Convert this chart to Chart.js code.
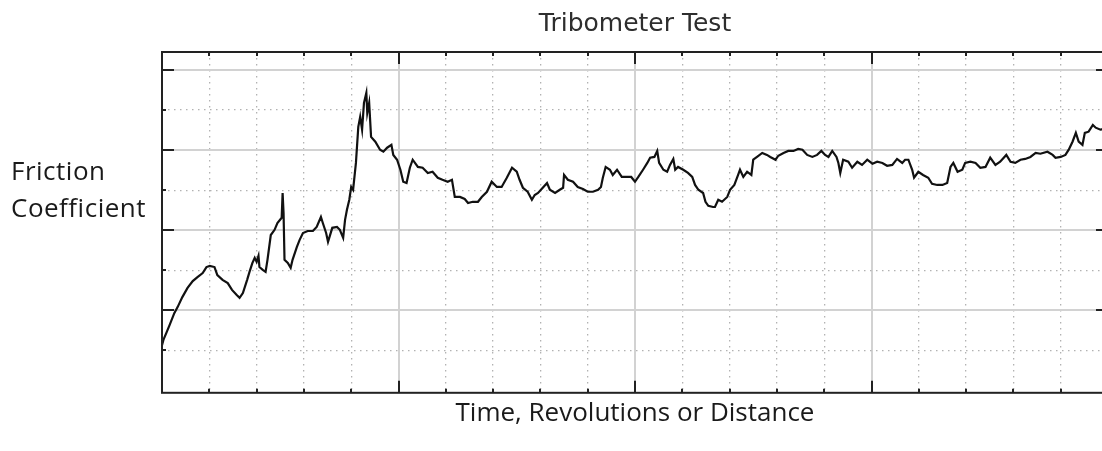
<!DOCTYPE html>
<html>
<head>
<meta charset="utf-8">
<script src="https://cdn.jsdelivr.net/npm/chart.js"></script>
<style>
  html, body { margin: 0; padding: 0; overflow: hidden; background: #fff; }
  /* plot runs a few px past the right edge of the window, like the original */
  #wrap { position: relative; width: 1112px; height: 451px; }
</style>
</head>
<body>
<div id="wrap"><canvas id="tribo-chart"></canvas></div>
<script>
  // trace: time (s) vs friction coefficient
  const time = [
    0, 3, 9, 16, 26, 33, 43, 54, 65, 75, 86, 94, 101, 111, 117, 128, 139, 148, 158, 164,
    171, 180, 185, 191, 196, 200, 204, 206, 213, 219, 223, 230, 238, 244, 253, 255, 257, 259, 266, 272,
    276, 285, 291, 298, 308, 319, 327, 336, 340, 347, 351, 360, 370, 376, 383, 387, 391, 396, 400, 404,
    410, 415, 419, 423, 427, 432, 434, 438, 442, 451, 461, 468, 476, 485, 489, 497, 504, 510, 517, 524,
    530, 541, 551, 562, 572, 583, 593, 604, 613, 619, 630, 640, 647, 657, 668, 676, 687, 697, 708, 718,
    729, 740, 750, 756, 763, 773, 782, 788, 795, 805, 814, 820, 831, 841, 848, 850, 858, 869, 879, 890,
    900, 911, 922, 928, 932, 938, 947, 953, 962, 972, 983, 992, 1000, 1007, 1017, 1026, 1032, 1041, 1047, 1051,
    1060, 1068, 1074, 1081, 1085, 1091, 1102, 1112, 1121, 1127, 1134, 1144, 1149, 1155, 1165, 1169, 1176, 1184, 1195, 1201,
    1210, 1218, 1222, 1229, 1237, 1246, 1250, 1258, 1269, 1279, 1286, 1297, 1303, 1314, 1324, 1335, 1345, 1354, 1364, 1375,
    1385, 1394, 1402, 1409, 1417, 1426, 1430, 1434, 1440, 1451, 1459, 1470, 1480, 1491, 1502, 1512, 1523, 1533, 1544, 1554,
    1565, 1571, 1578, 1586, 1590, 1599, 1609, 1620, 1628, 1639, 1650, 1660, 1667, 1673, 1682, 1692, 1698, 1709, 1720, 1730,
    1741, 1751, 1762, 1772, 1785, 1794, 1804, 1815, 1825, 1836, 1847, 1857, 1872, 1883, 1889, 1900, 1910, 1917, 1925, 1932,
    1938, 1946, 1951, 1959, 1968, 1974, 1984, 1993, 1999
  ];
  const friction = [
    0.113, 0.126, 0.143, 0.163, 0.193, 0.208, 0.233, 0.256, 0.273, 0.283, 0.293, 0.308, 0.311, 0.308, 0.288, 0.276, 0.268, 0.251, 0.238, 0.231,
    0.243, 0.276, 0.296, 0.318, 0.331, 0.321, 0.336, 0.308, 0.301, 0.296, 0.326, 0.388, 0.401, 0.418, 0.431, 0.493, 0.443, 0.326, 0.318, 0.306,
    0.326, 0.358, 0.376, 0.393, 0.398, 0.398, 0.408, 0.433, 0.418, 0.393, 0.371, 0.406, 0.408, 0.401, 0.381, 0.426, 0.451, 0.476, 0.508, 0.501,
    0.568, 0.658, 0.683, 0.651, 0.718, 0.743, 0.693, 0.718, 0.633, 0.621, 0.601, 0.596, 0.606, 0.613, 0.588, 0.576, 0.551, 0.521, 0.518, 0.556,
    0.576, 0.558, 0.556, 0.543, 0.546, 0.531, 0.526, 0.521, 0.526, 0.483, 0.483, 0.478, 0.468, 0.471, 0.471, 0.483, 0.496, 0.521, 0.508, 0.508,
    0.531, 0.556, 0.546, 0.526, 0.506, 0.496, 0.476, 0.488, 0.493, 0.506, 0.518, 0.501, 0.493, 0.501, 0.506, 0.538, 0.526, 0.521, 0.508, 0.503,
    0.496, 0.496, 0.501, 0.508, 0.531, 0.558, 0.551, 0.538, 0.551, 0.533, 0.533, 0.533, 0.521, 0.533, 0.551, 0.568, 0.581, 0.583, 0.598, 0.568,
    0.551, 0.546, 0.563, 0.578, 0.551, 0.558, 0.551, 0.543, 0.533, 0.513, 0.501, 0.493, 0.471, 0.461, 0.458, 0.458, 0.476, 0.471, 0.483, 0.501,
    0.513, 0.538, 0.551, 0.533, 0.546, 0.538, 0.576, 0.583, 0.593, 0.588, 0.583, 0.576, 0.586, 0.593, 0.598, 0.598, 0.603, 0.601, 0.588, 0.583,
    0.588, 0.598, 0.588, 0.583, 0.598, 0.583, 0.568, 0.543, 0.576, 0.571, 0.556, 0.571, 0.563, 0.576, 0.566, 0.571, 0.568, 0.561, 0.563, 0.578,
    0.568, 0.576, 0.576, 0.551, 0.531, 0.546, 0.538, 0.531, 0.516, 0.513, 0.513, 0.518, 0.558, 0.568, 0.546, 0.551, 0.568, 0.571, 0.568, 0.556,
    0.558, 0.581, 0.563, 0.571, 0.588, 0.571, 0.568, 0.576, 0.578, 0.583, 0.593, 0.591, 0.596, 0.588, 0.581, 0.583, 0.588, 0.601, 0.621, 0.643,
    0.621, 0.613, 0.643, 0.646, 0.663, 0.656, 0.651, 0.653, 0.656
  ];

  // grid positions (no tick labels are shown in the original)
  const xMinor = [0, 100, 200, 300, 400, 500, 600, 700, 800, 900, 1000,
                  1100, 1200, 1300, 1400, 1500, 1600, 1700, 1800, 1900, 2000];
  const xMajor = [0, 500, 1000, 1500, 2000];
  const yMinor = [0.1, 0.2, 0.3, 0.4, 0.5, 0.6, 0.7, 0.8];
  const yMajor = [0.2, 0.4, 0.6, 0.8];

  const textFont = '"Open Sans", "Noto Sans", sans-serif';
  const ink = '#1a1a1a';

  const setTicks = (vals) => (axis) => { axis.ticks = vals.map(v => ({ value: v })); };
  const minorColor = (majors) => (c) => (c.tick && majors.includes(c.tick.value)) ? 'rgba(0,0,0,0)' : '#b2b2b2';

  // frame + inward tick marks, like the old plotting widget
  const frameTicks = {
    id: 'frameTicks',
    afterDatasetsDraw(chart) {
      const { ctx, chartArea: a, scales } = chart;
      ctx.save();
      ctx.strokeStyle = '#222';
      ctx.lineWidth = 2;
      ctx.strokeRect(a.left, a.top, a.right - a.left, a.bottom - a.top);
      ctx.beginPath();
      xMinor.forEach(v => {
        const px = Math.round(scales.x.getPixelForValue(v));
        const len = xMajor.includes(v) ? 12 : 4;
        ctx.moveTo(px, a.top); ctx.lineTo(px, a.top + len);
        ctx.moveTo(px, a.bottom); ctx.lineTo(px, a.bottom - len);
      });
      yMinor.forEach(v => {
        const py = Math.round(scales.y.getPixelForValue(v));
        const len = yMajor.includes(v) ? 12 : 4;
        ctx.moveTo(a.left, py); ctx.lineTo(a.left + len, py);
        ctx.moveTo(a.right, py); ctx.lineTo(a.right - len, py);
      });
      ctx.stroke();
      ctx.restore();
    }
  };

  // horizontal two-line y label on the left
  const yLabel = {
    id: 'yLabel',
    afterDraw(chart) {
      const ctx = chart.ctx;
      ctx.save();
      ctx.fillStyle = ink;
      ctx.font = '26px ' + textFont;
      ctx.letterSpacing = '0.5px';
      ctx.textAlign = 'left';
      ctx.textBaseline = 'alphabetic';
      ctx.fillText('Friction', 11, 180);
      ctx.fillText('Coefficient', 11, 217);
      ctx.restore();
    }
  };

  new Chart(document.getElementById('tribo-chart'), {
    type: 'line',
    data: {
      datasets: [{
        label: 'Friction Coefficient',
        data: time.map((t, i) => ({ x: t, y: friction[i] })),
        borderColor: '#111',
        borderWidth: 2.2,
        pointRadius: 0,
        tension: 0,
        fill: false
      }]
    },
    options: {
      responsive: true,
      maintainAspectRatio: false,
      animation: false,
      layout: { padding: { left: 162, right: 4, top: 0, bottom: 0 } },
      plugins: {
        legend: { display: false },
        tooltip: { enabled: false },
        title: {
          display: true,
          text: 'Tribometer Test',
          color: '#2e2e2e',
          font: { family: '"DejaVu Sans", sans-serif', size: 25, weight: 'normal' },
          padding: { top: 9, bottom: 13 }
        }
      },
      scales: {
        x: {
          type: 'linear', position: 'bottom', min: 0, max: 2000,
          afterBuildTicks: setTicks(xMajor),
          ticks: { display: false },
          grid: { color: '#d2d2d2', lineWidth: 2, drawTicks: false },
          border: { display: false },
          title: {
            display: true,
            text: 'Time, Revolutions or Distance',
            color: ink,
            font: { family: textFont, size: 26 },
            padding: { top: 5, bottom: 22 }
          }
        },
        x2: {
          type: 'linear', position: 'top', min: 0, max: 2000,
          afterBuildTicks: setTicks(xMinor),
          ticks: { display: false },
          grid: { color: minorColor(xMajor), lineWidth: 1.3, drawTicks: false },
          border: { display: false, dash: [1.5, 4.5] }
        },
        y: {
          type: 'linear', position: 'left', min: -0.006, max: 0.845,
          afterBuildTicks: setTicks(yMajor),
          ticks: { display: false },
          grid: { color: '#d2d2d2', lineWidth: 2, drawTicks: false },
          border: { display: false }
        },
        y2: {
          type: 'linear', position: 'left', min: -0.006, max: 0.845,
          afterBuildTicks: setTicks(yMinor),
          ticks: { display: false },
          grid: { color: minorColor(yMajor), lineWidth: 1.3, drawTicks: false },
          border: { display: false, dash: [1.5, 4.5] }
        }
      }
    },
    plugins: [frameTicks, yLabel]
  });
</script>
</body>
</html>
